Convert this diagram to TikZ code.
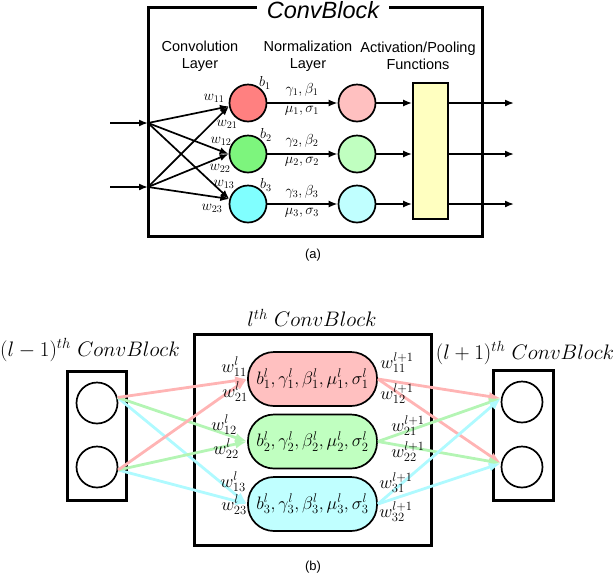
\RequirePackage{fix-cm}
\documentclass[tikz,border=0pt]{standalone}
\usepackage{fontspec}
\newfontfamily\hv{Liberation Sans}
\usetikzlibrary{arrows.meta,shadows}
\definecolor{redA}{RGB}{255,128,128}
\definecolor{greenA}{RGB}{125,245,125}
\definecolor{cyanA}{RGB}{128,255,255}
\definecolor{pinkL}{RGB}{255,192,192}
\definecolor{greenL}{RGB}{192,255,192}
\definecolor{cyanL}{RGB}{192,255,255}
\definecolor{yelL}{RGB}{255,255,192}
\definecolor{pinkLn}{RGB}{255,180,180}
\definecolor{greenLn}{RGB}{180,245,180}
\definecolor{cyanLn}{RGB}{175,250,255}
\begin{document}
\begin{tikzpicture}[x=1pt,y=-1pt,
  sans/.style={font=\hv\fontsize{14.5}{17}\selectfont, align=center, inner sep=0},
  bigbox/.style={draw, line width=3pt, fill=white, inner sep=0,
     drop shadow={opacity=0.25, shadow xshift=1.5pt, shadow yshift=-1.5pt}},
  acirc/.style={circle, draw, line width=1.7pt, minimum size=37pt, inner sep=0},
  arr/.style={-{Latex[length=9pt,width=7pt]}, line width=1.7pt},
  mA/.style={font=\fontsize{14.5}{16}\selectfont, inner sep=0},
  bcirc/.style={circle, draw, line width=1.7pt, minimum size=41pt, inner sep=0},
  rowbox/.style={rectangle, rounded corners=26pt, draw, line width=1.7pt,
     minimum width=129pt, minimum height=54pt, inner sep=0,
     font=\fontsize{18}{20}\selectfont},
  wl/.style={font=\fontsize{18}{20}\selectfont, inner sep=0},
  mtitle/.style={font=\fontsize{21}{24}\selectfont, inner sep=0},
  carr/.style={-{Latex[length=12pt,width=9pt]}, line width=2.8pt}
]
\useasboundingbox (0,0) rectangle (616,574);

% ---------------- (a) ----------------
\node[bigbox, minimum width=334pt, minimum height=229pt] (A) at (315,121.5) {};
\node[fill=white, inner xsep=10pt, inner ysep=3pt, font=\hv\itshape\fontsize{23.5}{26}\selectfont] (At) at (323,10) {ConvBlock};

\node[sans] (t1) at (200,56) {Convolution\\Layer};
\node[sans] (t2) at (308,56) {Normalization\\Layer};
\node[sans] (t3) at (418,56) {Activation/Pooling\\Functions};

\node[acirc, fill=redA]   (c1) at (248,103) {};
\node[acirc, fill=greenA] (c2) at (248,154) {};
\node[acirc, fill=cyanA]  (c3) at (248,204) {};
\node[acirc, fill=pinkL]  (n1) at (357,103) {};
\node[acirc, fill=greenL] (n2) at (357,154) {};
\node[acirc, fill=cyanL]  (n3) at (357,204) {};
\node[draw, line width=1.7pt, fill=yelL, minimum width=35pt, minimum height=136pt, inner sep=0] (Y) at (430.5,151) {};

\coordinate (s1) at (110,123);
\coordinate (s2) at (110,187);
\coordinate (i1) at (148,123);
\coordinate (i2) at (148,187);
\draw[arr] (s1) -- (i1);
\draw[arr] (s2) -- (i2);
\foreach \s in {i1,i2}{
  \draw[arr] (\s) -- (c1.190);
  \draw[arr] (\s) -- (c2.west);
  \draw[arr] (\s) -- (c3.165);
}
\foreach \k in {1,2,3}{
  \draw[arr] (c\k.east) -- (n\k.west);
  \draw[arr] (n\k.east) -- (n\k -| Y.west);
  \coordinate (o\k) at (514,0);
  \draw[arr] (n\k -| Y.east) -- (n\k -| o\k);
}

\node[mA] (w11) at (214,98)  {$w_{11}$};
\node[mA] (w21) at (227,124) {$w_{21}$};
\node[mA] (w12) at (221,141) {$w_{12}$};
\node[mA] (w22) at (220,168) {$w_{22}$};
\node[mA] (w13) at (224,184) {$w_{13}$};
\node[mA] (w23) at (212,208) {$w_{23}$};
\node[mA] (b1) at (265,83)  {$b_1$};
\node[mA] (b2) at (266,135) {$b_2$};
\node[mA] (b3) at (266,185) {$b_3$};
\node[mA] (g1) at (302,90)  {$\gamma_1,\beta_1$};
\node[mA] (m1) at (302,111) {$\mu_1,\sigma_1$};
\node[mA] (g2) at (302,141) {$\gamma_2,\beta_2$};
\node[mA] (m2) at (302,162) {$\mu_2,\sigma_2$};
\node[mA] (g3) at (302,192) {$\gamma_3,\beta_3$};
\node[mA] (m3) at (302,213) {$\mu_3,\sigma_3$};

\node[sans, font=\hv\fontsize{13}{15}\selectfont] (la) at (313,255) {(a)};

% ---------------- (b) ----------------
\node[bigbox, minimum width=59pt, minimum height=129pt] (LB) at (96.5,435.5) {};
\node[bigbox, minimum width=237pt, minimum height=211pt] (CB) at (312.5,439.5) {};
\node[bigbox, minimum width=60pt, minimum height=130pt] (RB) at (523,435) {};

\node[bcirc] (L1) at (97,403) {};
\node[bcirc] (L2) at (97,467) {};
\node[bcirc] (Q1) at (522,402) {};
\node[bcirc] (Q2) at (522,467) {};

\node[rowbox, fill=pinkL]  (r1) at (312.5,379)   {$b^l_1,\gamma^l_1,\beta^l_1,\mu^l_1,\sigma^l_1$};
\node[rowbox, fill=greenL] (r2) at (312.5,441.5) {$b^l_2,\gamma^l_2,\beta^l_2,\mu^l_2,\sigma^l_2$};
\node[rowbox, fill=cyanL]  (r3) at (312.5,504)   {$b^l_3,\gamma^l_3,\beta^l_3,\mu^l_3,\sigma^l_3$};

\node[mtitle] (tl) at (90,350)  {$(l-1)^{th}\ ConvBlock$};
\node[mtitle] (tc) at (312,318) {$l^{th}\ ConvBlock$};
\node[mtitle] (tr) at (525,353) {$(l+1)^{th}\ ConvBlock$};

% connectors left -> rows
\draw[carr, cyanLn]  (L1.15) -- (r3.west);
\draw[carr, cyanLn]  (L2.-8) -- (r3.west);
\draw[carr, greenLn] (L1.15) -- (r2.west);
\draw[carr, greenLn] (L2.-8) -- (r2.west);
\draw[carr, pinkLn]  (L1.15) -- (r1.west);
\draw[carr, pinkLn]  (L2.-8) -- (r1.west);
% rows -> right
\draw[carr, pinkLn]  (r1.east) -- (Q1.170);
\draw[carr, pinkLn]  (r1.east) -- (Q2.170);
\draw[carr, greenLn] (r2.east) -- (Q1.170);
\draw[carr, greenLn] (r2.east) -- (Q2.170);
\draw[carr, cyanLn]  (r3.east) -- (Q1.170);
\draw[carr, cyanLn]  (r3.east) -- (Q2.170);

\node[wl] (lw11) at (234,367) {$w^l_{11}$};
\node[wl] (lw21) at (235,392) {$w^l_{21}$};
\node[wl] (lw12) at (224,425) {$w^l_{12}$};
\node[wl] (lw22) at (226,449) {$w^l_{22}$};
\node[wl] (lw13) at (233,482) {$w^l_{13}$};
\node[wl] (lw23) at (234,505) {$w^l_{23}$};

\node[wl] (rw11) at (397,363) {$w^{l+1}_{11}$};
\node[wl] (rw12) at (397,394) {$w^{l+1}_{12}$};
\node[wl] (rw21) at (408,426) {$w^{l+1}_{21}$};
\node[wl] (rw22) at (408,452) {$w^{l+1}_{22}$};
\node[wl] (rw31) at (396,483) {$w^{l+1}_{31}$};
\node[wl] (rw32) at (396,512) {$w^{l+1}_{32}$};

\node[sans, font=\hv\fontsize{13}{15}\selectfont] (lb) at (313,567) {(b)};
\end{tikzpicture}
\end{document}
